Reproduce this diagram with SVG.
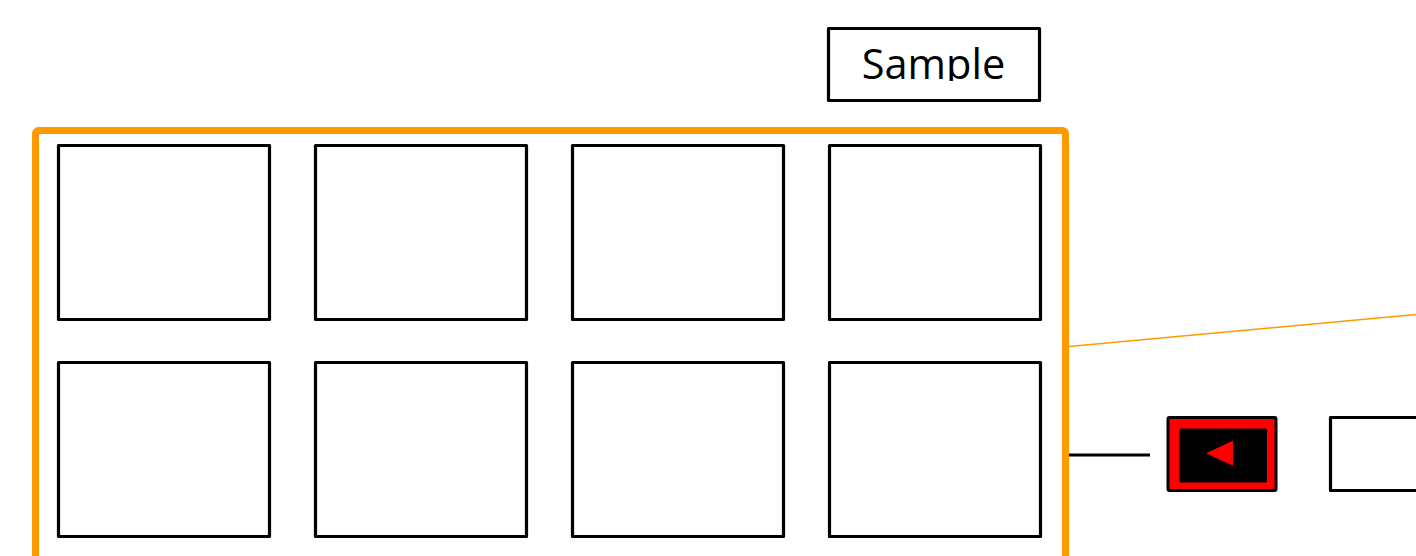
<svg xmlns="http://www.w3.org/2000/svg" width="1416" height="556" viewBox="0 0 1416 556">
<style>
.cell{fill:#fff;stroke:#000;stroke-width:3.2;stroke-linejoin:round}
.lbl{font-family:"Open Sans","Liberation Sans",sans-serif;font-size:41.5px;fill:#000}
</style>
<defs>
<clipPath id="clipSample"><rect x="828" y="28" width="212" height="53"/></clipPath>
</defs>
<rect width="1416" height="556" fill="#fff"/>
<g id="connectors">
<line x1="1069" y1="346.5" x2="1416" y2="314.5" stroke="#ff9900" stroke-width="1.6"/>
<line x1="1067" y1="455" x2="1150" y2="455" stroke="#000" stroke-width="3"/>
</g>
<g id="frame">
<rect x="35.5" y="130.5" width="1030" height="460" rx="3" fill="none" stroke="#ff9900" stroke-width="7"/>
</g>
<g id="sample">
<rect class="cell" x="828.5" y="28.5" width="211" height="72"/>
<text class="lbl" x="933.5" y="78.5" text-anchor="middle" clip-path="url(#clipSample)">Sample</text>
</g>
<g id="cell-1-1"><rect class="cell" x="58.5" y="145.5" width="211" height="174"/></g>
<g id="cell-1-2"><rect class="cell" x="315.5" y="145.5" width="211" height="174"/></g>
<g id="cell-1-3"><rect class="cell" x="572.5" y="145.5" width="211" height="174"/></g>
<g id="cell-1-4"><rect class="cell" x="829.5" y="145.5" width="211" height="174"/></g>
<g id="cell-2-1"><rect class="cell" x="58.5" y="362.5" width="211" height="174"/></g>
<g id="cell-2-2"><rect class="cell" x="315.5" y="362.5" width="211" height="174"/></g>
<g id="cell-2-3"><rect class="cell" x="572.5" y="362.5" width="211" height="174"/></g>
<g id="cell-2-4"><rect class="cell" x="829.5" y="362.5" width="211" height="174"/></g>
<g id="prev-button">
<rect x="1168" y="417.5" width="108" height="73" rx="1.5" fill="#ff0000" stroke="#000" stroke-width="3"/>
<rect x="1179.5" y="428.5" width="87.5" height="54" rx="1.5" fill="#000"/>
<polygon points="1206,453.3 1233,440.7 1233,465.7" fill="#ff0000"/>
</g>
<g id="next-box">
<rect class="cell" x="1330.5" y="417.5" width="120" height="73"/>
</g>
</svg>
